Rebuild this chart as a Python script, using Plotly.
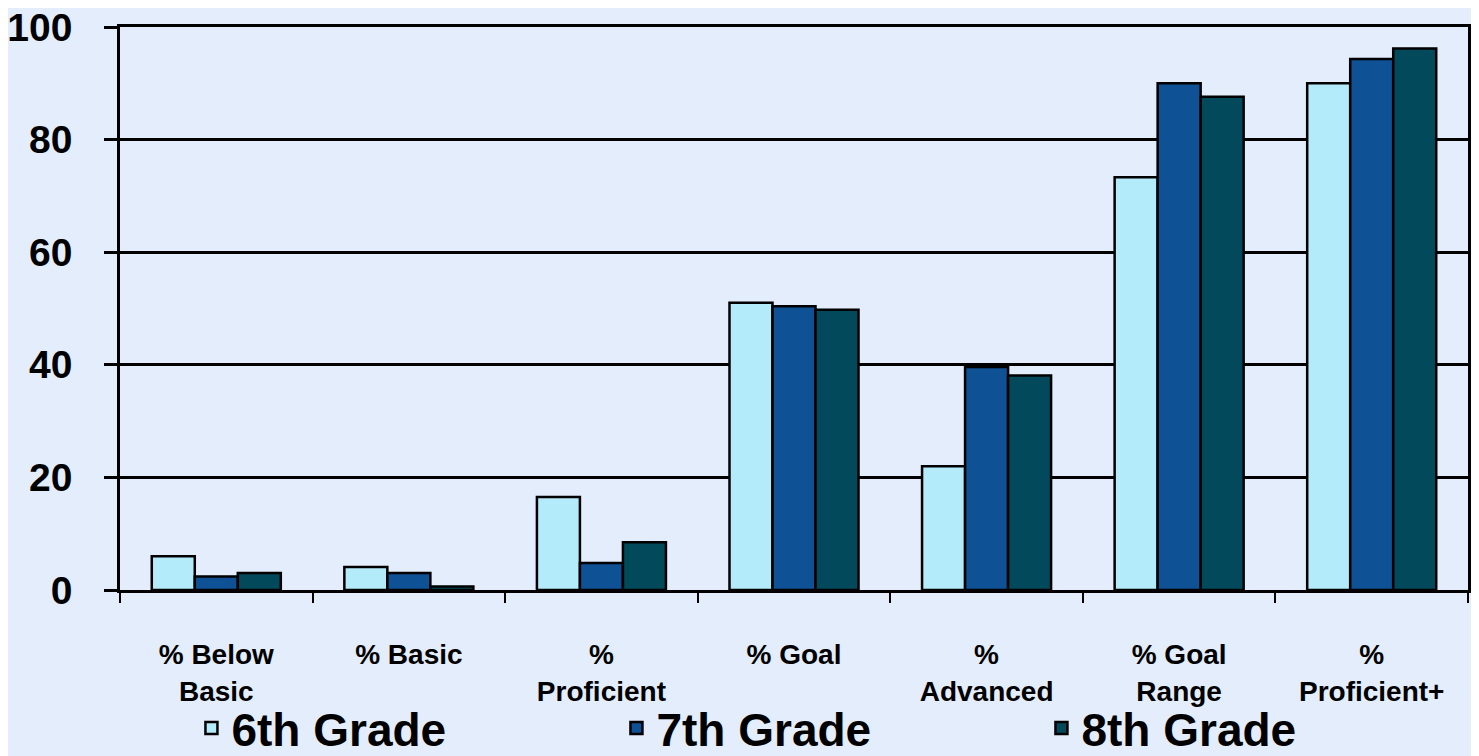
import plotly.graph_objects as go

categories = ["% Below<br>Basic", "% Basic", "%<br>Proficient", "% Goal",
              "%<br>Advanced", "% Goal<br>Range", "%<br>Proficient+"]
grade6 = [6.0, 4.1, 16.5, 51.0, 22.0, 73.3, 90.0]
grade7 = [2.4, 3.0, 4.8, 50.4, 39.6, 90.0, 94.3]
grade8 = [3.0, 0.6, 8.5, 49.8, 38.1, 87.6, 96.2]
series_names = ["6th Grade", "7th Grade", "8th Grade"]
series_colors = ["#b4ebfa", "#0e5194", "#02495c"]
y_ticks = [0, 20, 40, 60, 80, 100]

FONT = "Liberation Sans, Arial, sans-serif"

fig = go.Figure()
for name, vals, col in zip(series_names, [grade6, grade7, grade8], series_colors):
    fig.add_trace(go.Bar(
        x=categories, y=vals, name=name,
        marker=dict(color=col, line=dict(color="black", width=2.5)),
    ))

fig.update_layout(
    width=1471, height=748,
    margin=dict(l=112, r=11, t=19, b=166, autoexpand=False),
    paper_bgcolor="#e3edfb",
    plot_bgcolor="rgba(0,0,0,0)",
    barmode="group",
    bargap=0.33,
    bargroupgap=0,
    font=dict(family=FONT, color="black"),
    showlegend=True,
    legend=dict(
        orientation="h",
        x=0.053, xanchor="left",
        y=-0.31, yanchor="bottom",
        font=dict(family=FONT, size=46, color="black", weight="bold"),
        entrywidth=380, entrywidthmode="pixels",
        bgcolor="rgba(0,0,0,0)",
        traceorder="normal",
    ),
    xaxis=dict(
        type="category",
        showline=True, linecolor="black", linewidth=2.5, mirror=True,
        ticks="outside", tickson="boundaries", ticklen=10,
        tickcolor="black", tickwidth=2,
        tickfont=dict(family=FONT, size=28, color="black", weight="bold"),
        ticklabelstandoff=38,
        showgrid=False,
    ),
    yaxis=dict(
        range=[0, 100],
        tickvals=y_ticks,
        showline=True, linecolor="black", linewidth=2.5, mirror=True,
        ticks="outside", ticklen=13, tickcolor="black", tickwidth=2.5,
        showgrid=True, gridcolor="black", gridwidth=2.5,
        zeroline=False,
        tickfont=dict(family=FONT, size=39, color="black", weight="bold"),
        ticklabelstandoff=24,
        ticklabeloverflow="allow",
    ),
)

fig.write_html("out.html")
